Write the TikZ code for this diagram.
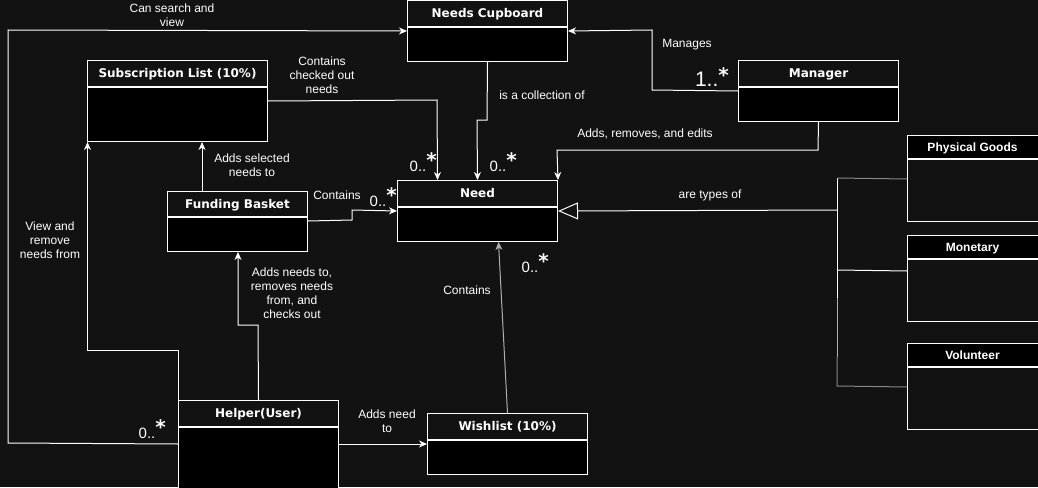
\documentclass[tikz,border=0pt]{standalone}
\usepackage{fontspec}
\setmainfont{Liberation Sans}
\newfontfamily\titlefont{DejaVu Sans}
\usetikzlibrary{arrows.meta,calc}
\definecolor{bgc}{RGB}{18,18,18}
\definecolor{grayline}{RGB}{136,136,136}
\definecolor{lightline}{RGB}{175,175,175}
\newcommand\mulx[2][15]{{\fontsize{#1}{#1}\selectfont #2}\raisebox{4pt}{\titlefont\bfseries\fontsize{20}{20}\selectfont *}}
\begin{document}
\begin{tikzpicture}[x=1pt,y=-1pt,
  hdr/.style={draw=white, line width=1pt, fill=bgc, text=white, anchor=north west,
    minimum height=26pt, inner sep=0pt, text height=8.8pt, text depth=0pt,
    font=\titlefont\bfseries\fontsize{12}{14}\selectfont},
  bodyb/.style={draw=white, line width=1pt, fill=black, anchor=north, inner sep=0pt},
  hdrb/.style={draw=white, line width=1pt, fill=black, text=white, anchor=north west,
    minimum height=23pt, minimum width=140pt, inner sep=0pt, text height=8.6pt, text depth=0pt,
    font=\bfseries\fontsize{12}{14}\selectfont},
  bodyg/.style={draw=white, line width=1pt, fill=bgc, anchor=north, inner sep=0pt,
    minimum width=140pt, minimum height=62pt},
  conn/.style={draw=white, line width=1pt},
  arr/.style={conn, -{Stealth[length=8pt,width=7pt,inset=2.5pt]}},
  lbl/.style={text=white, align=center, inner sep=0pt, font=\fontsize{12}{14}\selectfont},
  mult/.style={text=white, anchor=base east, inner sep=0pt}
]
\useasboundingbox (0,0) rectangle (1038,487);
\fill[bgc] (0,0) rectangle (1038,487);
\clip (0,0) rectangle (1038,487);

% classes
\node[hdr, minimum width=160pt] (nc) at (407,0) {Needs Cupboard};
\node[bodyb, minimum width=160pt, minimum height=34pt] (ncb) at (nc.south) {};

\node[hdr, minimum width=180pt] (sl) at (87,60) {Subscription List (10\%)};
\node[bodyb, minimum width=180pt, minimum height=54pt] (slb) at (sl.south) {};

\node[hdr, minimum width=160pt] (mg) at (738,60) {Manager};
\node[bodyb, minimum width=160pt, minimum height=34pt] (mgb) at (mg.south) {};

\node[hdr, minimum width=160pt] (nd) at (397,180) {Need};
\node[bodyb, minimum width=160pt, minimum height=34pt] (ndb) at (nd.south) {};

\node[hdr, minimum width=140pt, minimum height=25pt] (fb) at (167,191) {Funding Basket};
\node[bodyb, minimum width=140pt, minimum height=34pt] (fbb) at (fb.south) {};

\node[hdr, minimum width=160pt] (hp) at (178,400) {Helper(User)};
\node[bodyb, minimum width=160pt, minimum height=66pt] (hpb) at (hp.south) {};

\node[hdr, minimum width=160pt] (wl) at (427,413) {Wishlist (10\%)};
\node[bodyb, minimum width=160pt, minimum height=34pt] (wlb) at (wl.south) {};

\node[hdrb] (pg) at (907,135) {\hspace*{-10pt}Physical Goods};
\node[bodyg] (pgb) at (pg.south) {};
\node[hdrb] (mo) at (907,235) {\hspace*{-10pt}Monetary};
\node[bodyg] (mob) at (mo.south) {};
\node[hdrb] (vo) at (907,343) {\hspace*{-10pt}Volunteer};
\node[bodyg] (vob) at (vo.south) {};

% connectors
\draw[arr] ([yshift=-17pt]hpb.north west) -- (8,443) -- (8,30) -- ([yshift=-4pt]ncb.north west);
\draw[arr] ([yshift=-4pt]mgb.north west) -- (652,90) -- (652,30) -- ([yshift=-4pt]ncb.north east);
\draw[arr] (ncb.south) -- (487,120) -- (477,120) -- (nd.north);
\draw[arr] ([yshift=-14pt]slb.north east) -- (437,100) -- ([xshift=-40pt]nd.north);
\draw[arr] (mgb.south) -- (818,150) -- (557,150) -- (nd.north east);
\draw[arr] ([xshift=35pt]fb.north west) -- ([xshift=115pt]slb.south west);
\draw[arr] ([yshift=-4pt]fbb.north east) -- (352,220) -- (352,210) -- ([yshift=-4pt]ndb.north west);
\draw[arr] (hp.north) -- (258,325) -- (238,325) -- ([xshift=71pt]fbb.south west);
\draw[arr] (hp.north west) -- (178,350) -- (87.5,350) -- ([xshift=0.5pt]slb.south west);
\draw[arr, draw=lightline] (wl.north) -- ([xshift=21pt]ndb.south);
\draw[arr] ([yshift=-17pt]hpb.north east) -- ([yshift=-4pt]wlb.north west);

% generalization tree
\coordinate (tj) at (837,210);
\draw[conn, -{Triangle[open,length=20pt,width=17pt,fill=bgc]}] (tj) -- ([yshift=-4pt]ndb.north east);
\draw[conn] (837,178) -- (837,298);
\draw[conn, draw=lightline] (837,298) -- (837,357);
\draw[conn, draw=grayline] (837,357) -- (837,386) -- ([yshift=-20pt]vob.north west);
\draw[conn, draw=grayline] (837,178) -- ([yshift=-20pt]pgb.north west);
\draw[conn] (837,270) -- ([yshift=-12pt]mob.north west);

% labels
\node[lbl] (l1) at (172,15) {Can search and\\view};
\node[lbl] (l2) at (687,45) {Manages};
\node[lbl] (l3) at (322,75) {Contains\\checked out\\needs};
\node[lbl] (l4) at (542,95) {is a collection of};
\node[lbl] (l5) at (645,134) {Adds, removes, and edits};
\node[lbl] (l6) at (252,165) {Adds selected\\needs to};
\node[lbl] (l7) at (337,195) {Contains};
\node[lbl] (l8) at (710,195) {are types of};
\node[lbl] (l9) at (50,240) {View and\\remove\\needs from};
\node[lbl] (l10) at (292,293) {Adds needs to,\\removes needs\\from, and\\checks out};
\node[lbl] (l11) at (467,290) {Contains};
\node[lbl] (l12) at (387,421) {Adds need\\to};

% multiplicities
\node[mult] (m1) at (729,86) {\mulx[21]{1..}};
\node[mult] (m2) at (437,171) {\mulx{0..}};
\node[mult] (m3) at (517,171) {\mulx{0..}};
\node[mult] (m4) at (397,206) {\mulx{0..}};
\node[mult] (m5) at (549,272) {\mulx{0..}};
\node[mult] (m6) at (166,438) {\mulx{0..}};
\end{tikzpicture}
\end{document}
